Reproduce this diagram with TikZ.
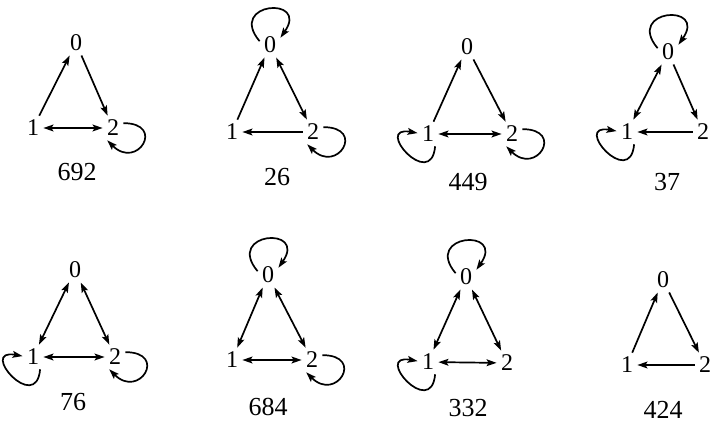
\documentclass[tikz,border=0pt]{standalone}
\usepackage{fontspec}
\setmainfont{Liberation Serif}
\usetikzlibrary{arrows.meta}

\begin{document}
\begin{tikzpicture}[x=0.5pt, y=-0.5pt,
  vtx/.style={inner sep=2pt, font=\fontsize{12}{14}\selectfont},
  num/.style={inner sep=0pt, font=\fontsize{13}{15}\selectfont},
  arr/.style={-{Stealth[length=5pt, width=3.4pt, inset=1pt]}, line width=0.85pt},
  barr/.style={{Stealth[length=5pt, width=3.4pt, inset=1pt]}-{Stealth[length=5pt, width=3.4pt, inset=1pt]}, line width=0.85pt},
  looptop/.style={out=130, in=55, distance=9mm},
  loopright/.style={out=0, in=-45, distance=7.5mm},
  loopleft/.style={out=-95, in=170, distance=8mm},
]
  \useasboundingbox (0,0) rectangle (716,422);

  % ---- 692 ----
  \node[vtx] (a0) at (76,43) {0};
  \node[vtx] (a1) at (33,128) {1};
  \node[vtx] (a2) at (113,128) {2};
  \node[num] (la) at (77,172) {692};
  \draw[arr] (a1) -- (a0);
  \draw[arr] (a0) -- (a2);
  \draw[barr] (a1) -- (a2);
  \draw[arr] (a2.25) to[loopright] (a2.-115);

  % ---- 26 ----
  \node[vtx] (b0) at (270,45) {0};
  \node[vtx] (b1) at (232,132) {1};
  \node[vtx] (b2) at (313,132) {2};
  \node[num] (lb) at (277,177) {26};
  \draw[arr] (b0.160) to[looptop] (b0.35);
  \draw[arr] (b1) -- (b0);
  \draw[barr] (b0) -- (b2);
  \draw[arr] (b2) -- (b1);
  \draw[arr] (b2.25) to[loopright] (b2.-115);

  % ---- 449 ----
  \node[vtx] (c0) at (467,47) {0};
  \node[vtx] (c1) at (428,134) {1};
  \node[vtx] (c2) at (512,134) {2};
  \node[num] (lc) at (468,182) {449};
  \draw[arr] (c1) -- (c0);
  \draw[arr] (c0) -- (c2);
  \draw[barr] (c1) -- (c2);
  \draw[arr] (c1.-60) to[loopleft] (c1.175);
  \draw[arr] (c2.25) to[loopright] (c2.-115);

  % ---- 37 ----
  \node[vtx] (d0) at (668,52) {0};
  \node[vtx] (d1) at (627,132) {1};
  \node[vtx] (d2) at (703,132) {2};
  \node[num] (ld) at (667,182) {37};
  \draw[arr] (d0.160) to[looptop] (d0.35);
  \draw[barr] (d0) -- (d1);
  \draw[arr] (d0) -- (d2);
  \draw[arr] (d2) -- (d1);
  \draw[arr] (d1.-60) to[loopleft] (d1.175);

  % ---- 76 ----
  \node[vtx] (e0) at (75,270) {0};
  \node[vtx] (e1) at (33,357) {1};
  \node[vtx] (e2) at (115,357) {2};
  \node[num] (le) at (73,402) {76};
  \draw[barr] (e0) -- (e1);
  \draw[barr] (e0) -- (e2);
  \draw[barr] (e1) -- (e2);
  \draw[arr] (e1.-60) to[loopleft] (e1.175);
  \draw[arr] (e2.25) to[loopright] (e2.-115);

  % ---- 684 ----
  \node[vtx] (f0) at (268,275) {0};
  \node[vtx] (f1) at (232,360) {1};
  \node[vtx] (f2) at (312,360) {2};
  \node[num] (lf) at (268,407) {684};
  \draw[arr] (f0.160) to[looptop] (f0.35);
  \draw[barr] (f0) -- (f1);
  \draw[barr] (f0) -- (f2);
  \draw[barr] (f1) -- (f2);
  \draw[arr] (f2.25) to[loopright] (f2.-115);

  % ---- 332 ----
  \node[vtx] (g0) at (466,277) {0};
  \node[vtx] (g1) at (428,362) {1};
  \node[vtx] (g2) at (507,363) {2};
  \node[num] (lg) at (468,408) {332};
  \draw[arr] (g0.160) to[looptop] (g0.35);
  \draw[barr] (g0) -- (g1);
  \draw[barr] (g0) -- (g2);
  \draw[barr] (g1) -- (g2);
  \draw[arr] (g1.-60) to[loopleft] (g1.175);

  % ---- 424 ----
  \node[vtx] (h0) at (663,280) {0};
  \node[vtx] (h1) at (627,365) {1};
  \node[vtx] (h2) at (705,365) {2};
  \node[num] (lh) at (663,410) {424};
  \draw[arr] (h1) -- (h0);
  \draw[arr] (h0) -- (h2);
  \draw[arr] (h2) -- (h1);
\end{tikzpicture}
\end{document}
